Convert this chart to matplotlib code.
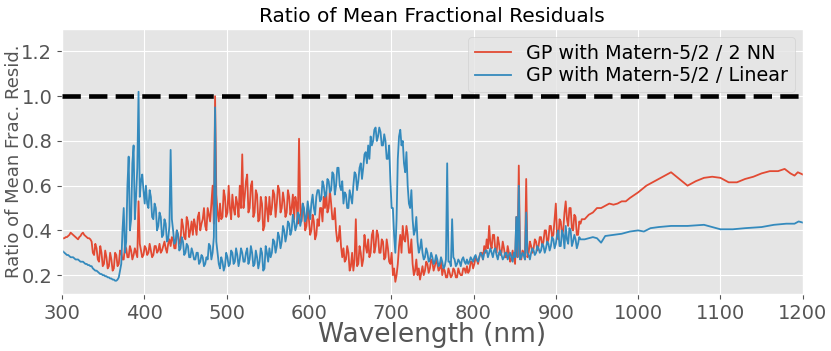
import numpy as np
import matplotlib
matplotlib.use("Agg")
import matplotlib.pyplot as plt

plt.style.use("ggplot")

# Noisy region: samples every 3 nm from 300 nm (set A) and offset by 1.5 nm (set B)
wl_a = np.arange(300, 931, 3).astype(float)
wl_b = wl_a + 1.5

red_a = [
    0.36, 0.365, 0.37, 0.38, 0.385, 0.375, 0.365, 0.37, 0.385, 0.38, 0.37, 0.365,
    0.35, 0.29, 0.32, 0.26, 0.30, 0.25, 0.28, 0.24, 0.27, 0.23, 0.29, 0.25,
    0.30, 0.27, 0.32, 0.28, 0.31, 0.29, 0.30, 0.53, 0.31, 0.29,
    0.32, 0.30, 0.31, 0.29, 0.33, 0.31, 0.30, 0.33, 0.32, 0.34,
    0.33, 0.36, 0.32, 0.38, 0.35, 0.42, 0.36, 0.44, 0.40, 0.38,
    0.42, 0.46, 0.40, 0.45, 0.42, 0.50, 0.44, 0.60, 1.00, 0.48,
    0.52, 0.46, 0.55, 0.48, 0.50, 0.56, 0.47, 0.52, 0.60, 0.74,
    0.55, 0.65, 0.50, 0.62, 0.48, 0.56, 0.45, 0.52, 0.42, 0.50,
    0.55, 0.50, 0.56, 0.52, 0.58, 0.50, 0.53, 0.48, 0.55, 0.50,
    0.45, 0.52, 0.81, 0.44, 0.48, 0.42, 0.45, 0.40, 0.44, 0.38,
    0.42, 0.50, 0.55, 0.57, 0.50, 0.52, 0.45, 0.40, 0.36, 0.33,
    0.32, 0.27, 0.30, 0.24, 0.22, 0.45, 0.25, 0.30, 0.27, 0.33,
    0.36, 0.30, 0.40, 0.33, 0.38, 0.30, 0.35, 0.28, 0.32, 0.25,
    0.20, 0.17, 0.25, 0.38, 0.42, 0.35, 0.38, 0.30, 0.25, 0.22,
    0.20, 0.18, 0.24, 0.22, 0.25, 0.23, 0.26, 0.24, 0.25, 0.23,
    0.20, 0.22, 0.19, 0.21, 0.20, 0.22, 0.19, 0.21, 0.20, 0.23,
    0.24, 0.22, 0.26, 0.25, 0.27, 0.28, 0.30, 0.33, 0.36, 0.42,
    0.32, 0.38, 0.30, 0.34, 0.30, 0.32, 0.28, 0.30, 0.27, 0.28,
    0.46, 0.69, 0.27, 0.30, 0.63, 0.30, 0.33, 0.32, 0.35, 0.33,
    0.37, 0.35, 0.40, 0.36, 0.42, 0.38, 0.52, 0.36, 0.44, 0.40,
    0.53, 0.42, 0.50, 0.40, 0.46, 0.38, 0.43,
]

red_b = [
    0.365, 0.37, 0.375, 0.39, 0.38, 0.37, 0.36, 0.375, 0.39, 0.375, 0.365, 0.36,
    0.30, 0.34, 0.27, 0.33, 0.24, 0.31, 0.23, 0.30, 0.22, 0.30, 0.24, 0.31,
    0.27, 0.33, 0.28, 0.33, 0.27, 0.32, 0.28, 0.34, 0.28, 0.33,
    0.29, 0.34, 0.28, 0.33, 0.30, 0.34, 0.31, 0.35, 0.30, 0.36,
    0.37, 0.32, 0.40, 0.34, 0.45, 0.37, 0.46, 0.37, 0.44, 0.45,
    0.38, 0.48, 0.43, 0.50, 0.40, 0.47, 0.52, 0.43, 0.56, 0.44,
    0.45, 0.58, 0.46, 0.60, 0.45, 0.50, 0.55, 0.46, 0.50, 0.50,
    0.62, 0.48, 0.60, 0.46, 0.58, 0.44, 0.55, 0.40, 0.55, 0.44,
    0.47, 0.58, 0.46, 0.60, 0.48, 0.57, 0.46, 0.58, 0.47, 0.56,
    0.55, 0.43, 0.50, 0.52, 0.40, 0.50, 0.38, 0.47, 0.36, 0.45,
    0.50, 0.44, 0.50, 0.48, 0.58, 0.45, 0.50, 0.35, 0.42, 0.28,
    0.26, 0.33, 0.22, 0.30, 0.27, 0.24, 0.33, 0.24, 0.38, 0.30,
    0.28, 0.38, 0.30, 0.40, 0.30, 0.36, 0.27, 0.36, 0.26, 0.30,
    0.23, 0.20, 0.33, 0.30, 0.36, 0.42, 0.30, 0.36, 0.20, 0.27,
    0.23, 0.21, 0.20, 0.26, 0.21, 0.27, 0.22, 0.27, 0.22, 0.26,
    0.23, 0.19, 0.23, 0.19, 0.23, 0.19, 0.23, 0.20, 0.23, 0.21,
    0.21, 0.26, 0.23, 0.28, 0.25, 0.30, 0.27, 0.30, 0.32, 0.34,
    0.38, 0.31, 0.37, 0.29, 0.35, 0.28, 0.33, 0.26, 0.31, 0.25,
    0.28, 0.30, 0.31, 0.27, 0.28, 0.35, 0.30, 0.36, 0.31, 0.37,
    0.33, 0.40, 0.34, 0.42, 0.37, 0.45, 0.38, 0.45, 0.38, 0.48,
    0.45, 0.50, 0.41, 0.47, 0.38, 0.44, 0.45,
]

blue_a = [
    0.31, 0.30, 0.29, 0.285, 0.28, 0.275, 0.27, 0.265, 0.26, 0.255, 0.25, 0.245,
    0.24, 0.225, 0.22, 0.21, 0.205, 0.20, 0.195, 0.19, 0.185, 0.18, 0.175, 0.19,
    0.25, 0.50, 0.35, 0.73, 0.45, 0.78, 0.55, 1.02, 0.62, 0.58,
    0.60, 0.50, 0.55, 0.45, 0.50, 0.42, 0.46, 0.38, 0.43, 0.36,
    0.76, 0.40, 0.35, 0.38, 0.32, 0.35, 0.30, 0.33, 0.28, 0.30,
    0.27, 0.30, 0.26, 0.28, 0.25, 0.27, 0.33, 0.30, 0.95, 0.30,
    0.23, 0.26, 0.24, 0.28, 0.25, 0.30, 0.26, 0.29, 0.27, 0.30,
    0.26, 0.32, 0.27, 0.30, 0.25, 0.28, 0.26, 0.30, 0.23, 0.30,
    0.32, 0.30, 0.35, 0.33, 0.37, 0.35, 0.40, 0.38, 0.43, 0.40,
    0.44, 0.42, 0.47, 0.45, 0.50, 0.46, 0.49, 0.52, 0.50, 0.55,
    0.58, 0.54, 0.60, 0.56, 0.62, 0.58, 0.65, 0.60, 0.68, 0.58,
    0.52, 0.56, 0.50, 0.55, 0.60, 0.65, 0.62, 0.70, 0.68, 0.75,
    0.78, 0.82, 0.80, 0.86, 0.82, 0.84, 0.78, 0.80, 0.72, 0.62,
    0.50, 0.30, 0.72, 0.85, 0.80, 0.66, 0.60, 0.50, 0.45, 0.40,
    0.35, 0.32, 0.30, 0.28, 0.30, 0.27, 0.28, 0.26, 0.27, 0.25,
    0.26, 0.24, 0.70, 0.26, 0.45, 0.27, 0.25, 0.26, 0.27, 0.26,
    0.27, 0.26, 0.27, 0.28, 0.27, 0.28, 0.29, 0.30, 0.31, 0.30,
    0.30, 0.31, 0.29, 0.30, 0.29, 0.28, 0.30, 0.29, 0.28, 0.30,
    0.46, 0.60, 0.28, 0.29, 0.48, 0.29, 0.30, 0.31, 0.30, 0.32,
    0.31, 0.33, 0.32, 0.34, 0.33, 0.36, 0.34, 0.40, 0.33, 0.38,
    0.42, 0.34, 0.40, 0.35, 0.36, 0.34, 0.36,
]

blue_b = [
    0.305, 0.295, 0.29, 0.28, 0.28, 0.27, 0.27, 0.26, 0.26, 0.25, 0.245, 0.24,
    0.23, 0.22, 0.215, 0.205, 0.20, 0.195, 0.19, 0.185, 0.18, 0.175, 0.18, 0.22,
    0.40, 0.30, 0.60, 0.40, 0.70, 0.45, 0.68, 0.55, 0.65, 0.52,
    0.52, 0.58, 0.46, 0.52, 0.40, 0.48, 0.37, 0.45, 0.35, 0.42,
    0.45, 0.34, 0.40, 0.31, 0.37, 0.29, 0.34, 0.28, 0.32, 0.27,
    0.30, 0.25, 0.29, 0.24, 0.28, 0.34, 0.27, 0.37, 0.35, 0.25,
    0.28, 0.22, 0.30, 0.24, 0.31, 0.25, 0.32, 0.24, 0.32, 0.26,
    0.30, 0.25, 0.33, 0.24, 0.31, 0.23, 0.32, 0.22, 0.33, 0.26,
    0.28, 0.36, 0.30, 0.39, 0.32, 0.42, 0.35, 0.44, 0.38, 0.47,
    0.40, 0.48, 0.42, 0.52, 0.44, 0.53, 0.45, 0.56, 0.47, 0.58,
    0.53, 0.62, 0.55, 0.63, 0.57, 0.66, 0.56, 0.68, 0.60, 0.62,
    0.57, 0.50, 0.58, 0.52, 0.66, 0.58, 0.68, 0.63, 0.74, 0.70,
    0.72, 0.78, 0.85, 0.80, 0.86, 0.78, 0.83, 0.72, 0.78, 0.50,
    0.38, 0.45, 0.82, 0.78, 0.70, 0.75, 0.52, 0.58, 0.38, 0.46,
    0.30, 0.36, 0.27, 0.32, 0.26, 0.30, 0.25, 0.29, 0.24, 0.28,
    0.23, 0.27, 0.26, 0.24, 0.28, 0.24, 0.27, 0.24, 0.28, 0.25,
    0.25, 0.28, 0.26, 0.29, 0.26, 0.30, 0.27, 0.31, 0.28, 0.32,
    0.28, 0.32, 0.27, 0.31, 0.27, 0.30, 0.27, 0.30, 0.26, 0.28,
    0.28, 0.27, 0.30, 0.27, 0.30, 0.27, 0.32, 0.29, 0.33, 0.30,
    0.34, 0.30, 0.35, 0.31, 0.37, 0.32, 0.38, 0.33, 0.40, 0.32,
    0.36, 0.41, 0.33, 0.38, 0.32, 0.37, 0.36,
]

# Smooth long-wavelength tails
red_tail_wl = [935, 940, 945, 950, 955, 960, 965, 970, 975, 980, 985, 990, 1000,
               1010, 1020, 1030, 1040, 1050, 1060, 1070, 1080, 1090, 1100, 1110,
               1120, 1130, 1140, 1150, 1160, 1170, 1178, 1185, 1190, 1194, 1200]
red_tail = [0.45, 0.47, 0.48, 0.50, 0.50, 0.51, 0.52, 0.515, 0.52, 0.53, 0.53, 0.545, 0.57,
            0.60, 0.62, 0.64, 0.66, 0.63, 0.60, 0.62, 0.635, 0.64, 0.635, 0.615,
            0.615, 0.63, 0.64, 0.655, 0.665, 0.665, 0.675, 0.655, 0.645, 0.66, 0.65]

blue_tail_wl = [935, 940, 945, 950, 955, 960, 970, 980, 990, 1000, 1007, 1015, 1025,
                1040, 1060, 1080, 1090, 1100, 1115, 1130, 1150, 1165, 1180, 1190, 1195, 1200]
blue_tail = [0.36, 0.365, 0.37, 0.365, 0.345, 0.375, 0.38, 0.385, 0.395, 0.40, 0.395, 0.41, 0.415,
             0.42, 0.42, 0.425, 0.415, 0.405, 0.405, 0.41, 0.415, 0.425, 0.43, 0.43, 0.44, 0.435]

labels = ["GP with Matern-5/2 / 2 NN", "GP with Matern-5/2 / Linear"]


def assemble(a, b, tail_wl, tail):
    wl = np.concatenate([wl_a, wl_b, tail_wl])
    y = np.concatenate([a, b, tail])
    order = np.argsort(wl, kind="stable")
    return wl[order], y[order]


red_wl, red_y = assemble(red_a, red_b, red_tail_wl, red_tail)
blue_wl, blue_y = assemble(blue_a, blue_b, blue_tail_wl, blue_tail)

fig = plt.figure(figsize=(8.31, 3.51), dpi=100)
ax = fig.add_axes([0.0746, 0.162, 0.8914, 0.755])

ax.plot(red_wl, red_y, color="#E24A33", lw=1.3, label=labels[0])
ax.plot(blue_wl, blue_y, color="#348ABD", lw=1.3, label=labels[1])
ax.axhline(1.0, color="black", lw=3.3, ls=(0, (4, 1.8)), zorder=5)

ax.set_xlim(300, 1200)
ax.set_ylim(0.115, 1.3)
ax.set_yticks([0.2, 0.4, 0.6, 0.8, 1.0, 1.2])
ax.tick_params(labelsize=14, colors="#555555")
ax.set_title("Ratio of Mean Fractional Residuals", fontsize=14.5, pad=5)
ax.set_xlabel("Wavelength (nm)", fontsize=19, color="#555555")
ax.xaxis.set_label_coords(0.5, -0.105)
ax.set_ylabel("Ratio of Mean Frac. Resid.", fontsize=13, color="#555555")
ax.yaxis.set_label_coords(-0.052, 0.5)
leg = ax.legend(loc="upper right", fontsize=13.8, facecolor="#E5E5E5", framealpha=0.8,
                borderaxespad=0.4, handlelength=1.9, labelspacing=0.2,
                borderpad=0.35)
leg.set_zorder(4)

fig.savefig("out.png", dpi=100)
